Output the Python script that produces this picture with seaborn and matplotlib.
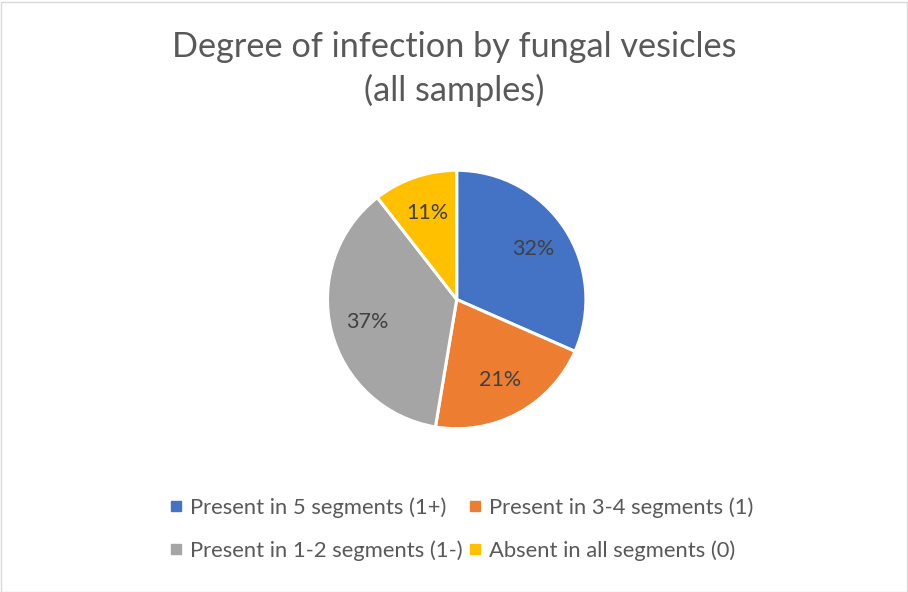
import matplotlib
matplotlib.use("Agg")
import matplotlib.pyplot as plt
import seaborn as sns
from matplotlib.patches import Rectangle
from matplotlib.lines import Line2D

sns.set_theme(style="white")
plt.rcParams['font.family'] = ['Lato', 'DejaVu Sans']

categories = ["Present in 5 segments (1+)", "Present in 3-4 segments (1)",
              "Present in 1-2 segments (1-)", "Absent in all segments (0)"]
counts = [6, 4, 7, 2]
colors = ["#4472C4", "#ED7D31", "#A5A5A5", "#FFC000"]
title = "Degree of infection by fungal vesicles\n(all samples)"

W, H = 908, 592
fig = plt.figure(figsize=(W / 100, H / 100), dpi=100)
fig.patch.set_facecolor("white")
fig.patches.append(Rectangle((0.5 / W, 0.5 / H), (W - 2) / W, (H - 2) / H,
                             transform=fig.transFigure, fill=False,
                             edgecolor="#D9D9D9", linewidth=1.0))

cx, cy, r = 456.7, 299.5, 130.5
ax = fig.add_axes([(cx - r) / W, (H - cy - r) / H, 2 * r / W, 2 * r / H])
wedges, texts, autotexts = ax.pie(
    counts, colors=colors, startangle=90, counterclock=False,
    autopct=lambda p: f"{p:.0f}%", pctdistance=0.71, radius=1,
    wedgeprops=dict(edgecolor="white", linewidth=2.2),
    textprops=dict(color="#404040", fontsize=15.5))
ax.set_xlim(-1.01, 1.01)
ax.set_ylim(-1.01, 1.01)
ax.set_aspect("equal")
ax.axis("off")

fig.text(0.5, 1 - 69 / H, title, ha="center", va="center",
         fontsize=24.7, color="#595959", linespacing=1.38)

handles = [Line2D([], [], marker="s", linestyle="none", markersize=6.5,
                  markerfacecolor=c, markeredgecolor=c) for c in colors]
order = [0, 2, 1, 3]
leg = fig.legend([handles[i] for i in order], [categories[i] for i in order],
                 ncol=2, loc="center left", bbox_to_anchor=(160 / W, 1 - 529 / H),
                 frameon=False, fontsize=15.8, handlelength=0.5, borderpad=0,
                 handletextpad=0.35, columnspacing=0.35, labelspacing=1.0,
                 labelcolor="#595959")

fig.savefig("out.png", dpi=100, facecolor="white")
